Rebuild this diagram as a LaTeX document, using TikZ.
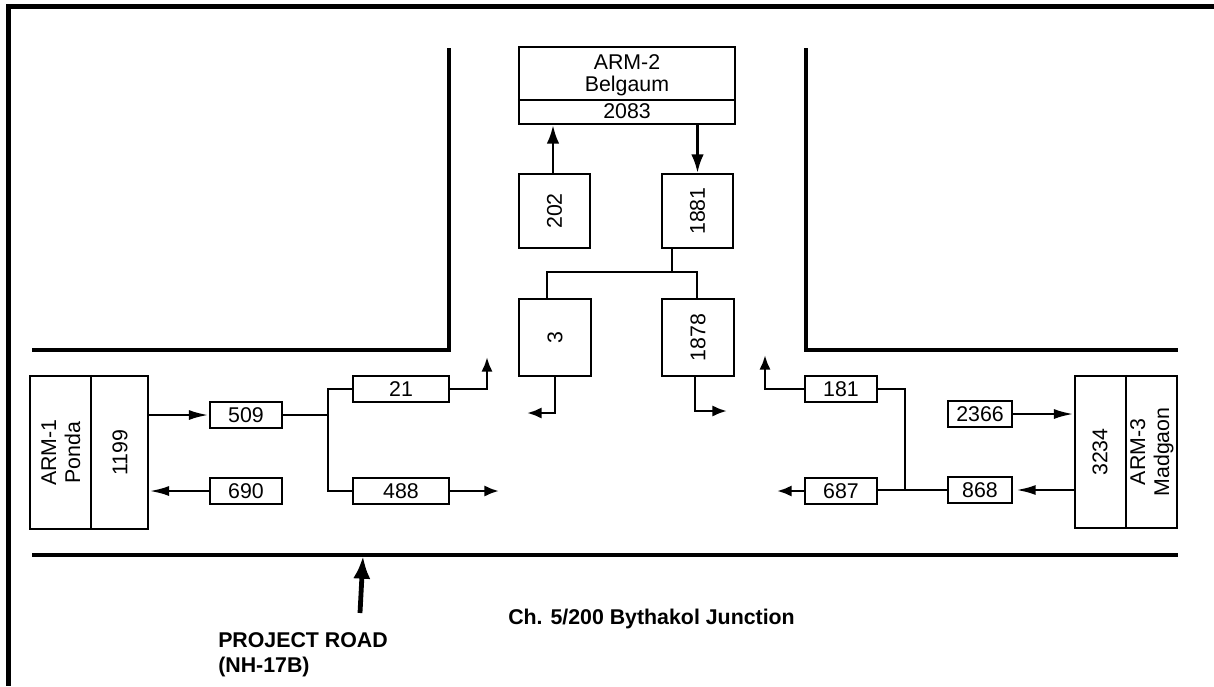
\documentclass[tikz,border=0pt]{standalone}
\usepackage{fontspec}
\setmainfont{Liberation Sans}
\usetikzlibrary{arrows.meta}
\tikzset{
  box/.style={draw, line width=1.6pt, inner sep=0pt, font=\fontsize{16}{19}\selectfont},
  lbl/.style={inner sep=0pt, font=\fontsize{16}{19}\selectfont, align=center},
  conn/.style={line width=2.1pt},
  arr/.style={conn, -{Latex[length=11pt,width=8.5pt]}},
  uparr/.style={conn, -{Latex[length=14pt,width=9.5pt]}},
  longarr/.style={conn, -{Latex[length=15pt,width=7.5pt]}},
  road/.style={line width=2.4pt},
  frame/.style={line width=3.8pt},
  bigarr/.style={line width=3.6pt, -{Latex[length=17pt,width=13pt]}},
  boldlbl/.style={inner sep=0pt, font=\bfseries\fontsize{16}{19}\selectfont, align=left}
}
\begin{document}
\begin{tikzpicture}[x=0.75pt, y=-0.75pt]
\useasboundingbox (0,0) rectangle (1214,686);
% frame
\draw[frame] (6,6.5) -- (1214,6.5);
\draw[frame] (8.5,4.6) -- (8.5,686);
% roads
\draw[road] (32,350) -- (449,350) -- (449,48);
\draw[road] (806,48) -- (806,350) -- (1178,350);
\draw[road] (32,555) -- (1178,555);

% ARM-2
\node[box, minimum width=162pt, minimum height=57.75pt] (arm2) at (627,85.5) {};
\node[lbl] (arm2name) at (627,75) {ARM-2\\[-2.5pt]Belgaum};
\node[lbl] (arm2val) at (627,111.5) {2083};
\draw[line width=1.6pt] ([yshift=18.75pt]arm2.south west) -- ([yshift=18.75pt]arm2.south east);

\node[box, minimum width=53.25pt, minimum height=55.5pt] (b202) at (554.5,211) {\rotatebox{90}{202}};
\node[box, minimum width=53.25pt, minimum height=55.5pt] (b1881) at (697.5,211) {\rotatebox{90}{1881}};
\node[box, minimum width=54pt, minimum height=57.75pt] (b3) at (555,337.5) {\rotatebox{90}{3}};
\node[box, minimum width=54pt, minimum height=57.75pt] (b1878) at (698,337.5) {\rotatebox{90}{1878}};

% ARM-1
\node[box, minimum width=88.5pt, minimum height=114.75pt] (arm1) at (89,452.5) {};
\draw[line width=1.6pt] ([xshift=46.5pt]arm1.north west) -- ([xshift=46.5pt]arm1.south west);
\node[lbl, rotate=90] (arm1name) at (61,452.5) {ARM-1\\[-1pt]Ponda};
\node[lbl, rotate=90] (arm1val) at (120,452.5) {1199};

\node[box, minimum width=54pt, minimum height=19.5pt] (b509) at (246,415) {509};
\node[box, minimum width=54pt, minimum height=19.5pt] (b690) at (246,491) {690};
\node[box, minimum width=72pt, minimum height=19.5pt] (b21) at (401,389) {21};
\node[box, minimum width=72pt, minimum height=19.5pt] (b488) at (401,491) {488};

\node[box, minimum width=54pt, minimum height=19.5pt] (b181) at (841,389) {181};
\node[box, minimum width=54pt, minimum height=19.5pt] (b687) at (841,491) {687};
\node[box, minimum width=48pt, minimum height=19.5pt] (b2366) at (980,414) {2366};
\node[box, minimum width=48pt, minimum height=19.5pt] (b868) at (980,490) {868};

% ARM-3
\node[box, minimum width=76.5pt, minimum height=114pt] (arm3) at (1126,452) {};
\draw[line width=1.6pt] (arm3.north) -- (arm3.south);
\node[lbl, rotate=90] (arm3val) at (1100,452) {3234};
\node[lbl, rotate=90] (arm3name) at (1152,452) {ARM-3\\[-1pt]Madgaon};

% coordinates
\coordinate (jn) at (672,272);
\coordinate (j3) at (547,272);
\coordinate (j1878) at (697,272);
\coordinate (e3) at (527,413);
\coordinate (e1878) at (727,411);
\coordinate (s1) at (328,415);
\coordinate (e21) at (487,357);
\coordinate (e488) at (499,491);
\coordinate (s2) at (905,491);
\coordinate (e181) at (765,355);
\coordinate (e687) at (777,491);
\coordinate (p1) at (360,613);
\coordinate (p2) at (363,556);

% connectors
\draw[uparr] (b202.north -| 553,0) -- (arm2.south -| 553,0);
\draw[uparr] (arm2.south -| b1881.north) -- (b1881.north);
\draw[conn] (b1881.south -| jn) -- (jn);
\draw[conn] (b3.north -| j3) -- (j3) -- (j1878) -- (b1878.north -| j1878);
\draw[arr] (b3.south) |- (e3);
\draw[arr] (b1878.south -| 695,0) |- (e1878);

\draw[longarr] (arm1.east |- b509) -- (b509.west);
\draw[longarr] (b690.west) -- (arm1.east |- b690);
\draw[conn] (b509.east) -- (s1);
\draw[conn] (b21.west) -| (s1) |- (b488.west);
\draw[arr] (b21.east) -| (e21);
\draw[arr] (b488.east) -- (e488);

\draw[conn] (b181.east) -| (s2);
\draw[conn] (b868.west) -- (b687.east |- b868.west);
\draw[arr] (b181.west) -| (e181);
\draw[arr] (b687.west) -- (e687);
\draw[longarr] (b2366.east) -- (arm3.west |- b2366);
\draw[longarr] (arm3.west |- b868) -- ([xshift=2pt]b868.east);

\draw[bigarr] (p1) -- (p2);

\node[boldlbl, anchor=west] (proj) at (218,655) {PROJECT ROAD\\(NH-17B)};
\node[boldlbl, anchor=west] (junc) at (508,619) {Ch. 5/200 Bythakol Junction};
\end{tikzpicture}
\end{document}
